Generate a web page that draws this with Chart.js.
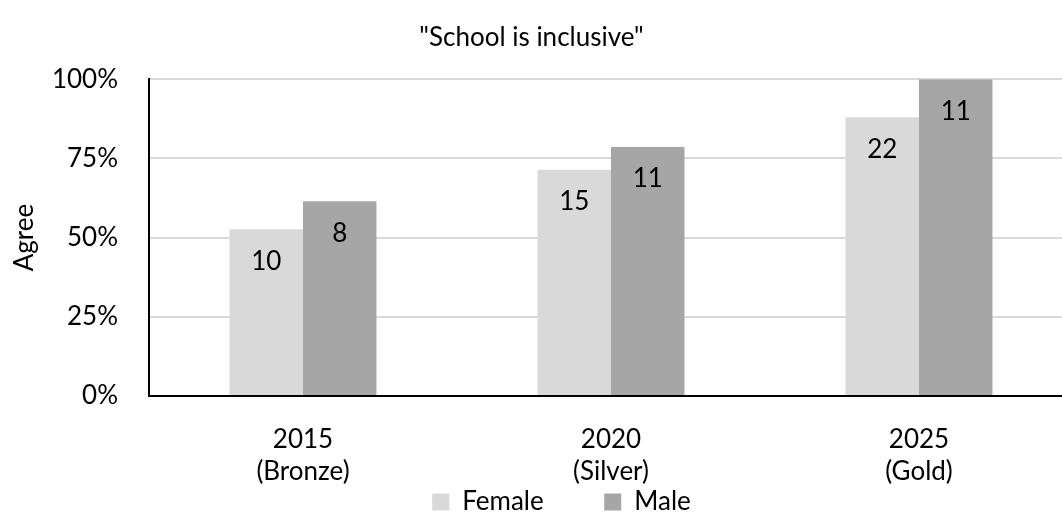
<!DOCTYPE html>
<html>
<head>
<meta charset="utf-8">
<script src="https://cdn.jsdelivr.net/npm/chart.js@4"></script>
<style>
html, body { margin: 0; padding: 0; overflow: hidden; background: #fff; }
#wrap { width: 1080px; height: 514px; position: relative; }
</style>
</head>
<body>
<div id="wrap"><canvas id="barChart"></canvas></div>
<script>
// data
var categories = [["2015", "(Bronze)"], ["2020", "(Silver)"], ["2025", "(Gold)"]];
var femaleAgree = [52.6, 71.4, 88];
var maleAgree = [61.5, 78.6, 100];
var femaleCount = [10, 15, 22];
var maleCount = [8, 11, 11];
var yTicks = [0, 25, 50, 75, 100];

var FONT = "Lato, 'Open Sans', sans-serif";

// counts written inside the top of each bar
var barLabels = {
  id: 'barLabels',
  afterDatasetsDraw: function (chart) {
    var ctx = chart.ctx;
    var counts = [femaleCount, maleCount];
    ctx.save();
    ctx.font = '26px ' + FONT;
    ctx.fillStyle = '#000';
    ctx.textAlign = 'center';
    ctx.textBaseline = 'middle';
    chart.data.datasets.forEach(function (ds, i) {
      chart.getDatasetMeta(i).data.forEach(function (bar, j) {
        ctx.fillText(counts[i][j], bar.x, bar.y + 32);
      });
    });
    ctx.restore();
  }
};

// nudge legend and title to where they sit in the original
var boxShift = {
  id: 'boxShift',
  afterLayout: function (chart) {
    var lg = chart.legend;
    var dy = 487 - lg.top;
    lg.top += dy; lg.bottom += dy;
    lg.left += 25; lg.right += 25;
    var t = chart.titleBlock;
    t.left -= 5; t.right -= 5;
  }
};

var ctx = document.getElementById("barChart").getContext('2d');
var myBarChart = new Chart(ctx, {
  type: 'bar',
  data: {
    labels: categories,
    datasets: [{
      label: "Female",
      data: femaleAgree,
      backgroundColor: '#d9d9d9'
    },
    {
      label: "Male",
      data: maleAgree,
      backgroundColor: '#a6a6a6'
    }]
  },
  options: {
    responsive: true,
    maintainAspectRatio: false,
    animation: false,
    layout: { padding: { left: 0, right: 7, top: 0, bottom: -12 } },
    datasets: { bar: { categoryPercentage: 0.477, barPercentage: 1 } },
    plugins: {
      title: {
        display: true,
        text: '"School is inclusive"',
        color: '#000',
        font: { family: FONT, size: 26, weight: 'normal' },
        padding: { top: 22, bottom: 26 }
      },
      legend: {
        position: 'bottom',
        labels: {
          color: '#000',
          font: { family: FONT, size: 26 },
          boxWidth: 17,
          boxHeight: 17,
          padding: 2,
          generateLabels: function (chart) {
            var items = Chart.defaults.plugins.legend.labels.generateLabels(chart);
            items[0].text = items[0].text + '\u2003\u2003\u2003';
            return items;
          }
        }
      },
      tooltip: { enabled: false }
    },
    scales: {
      x: {
        grid: { display: false },
        border: { color: '#000', width: 2 },
        afterFit: function (scale) { scale.height = 92; },
        ticks: {
          color: '#000',
          font: { family: FONT, size: 26, lineHeight: 1.23 },
          padding: 20,
          maxRotation: 0
        }
      },
      y: {
        min: 0,
        max: 100,
        afterBuildTicks: function (scale) {
          scale.ticks = yTicks.map(function (v) { return { value: v }; });
        },
        afterFit: function (scale) { scale.width = 149; },
        grid: { color: '#d9d9d9', lineWidth: 2, drawTicks: false },
        border: { color: '#000', width: 2 },
        ticks: {
          color: '#000',
          font: { family: FONT, size: 26 },
          padding: 31,
          callback: function (v) { return v + '%'; }
        },
        title: {
          display: true,
          text: 'Agree',
          color: '#000',
          font: { family: FONT, size: 26 },
          padding: 9
        }
      }
    }
  },
  plugins: [barLabels, boxShift]
});
</script>
</body>
</html>
